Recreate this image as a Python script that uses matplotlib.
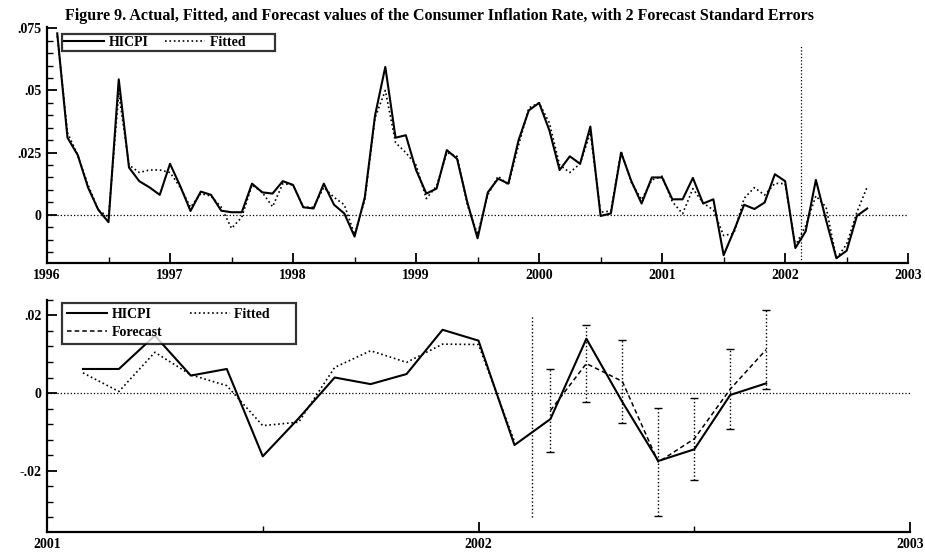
import numpy as np
import matplotlib
matplotlib.use("Agg")
import matplotlib.pyplot as plt
from matplotlib.ticker import MultipleLocator, FuncFormatter

# Monthly consumer inflation (HICPI), Feb 1996 - Sep 2002
hicpi = [
    0.073, 0.031, 0.024, 0.011, 0.002, -0.003, 0.0545, 0.019, 0.0135, 0.011, 0.008,
    0.0205, 0.0115, 0.0015, 0.0093, 0.008, 0.0016, 0.001, 0.001, 0.0125, 0.009, 0.0085,
    0.0135, 0.012, 0.003, 0.0025, 0.0125, 0.004, 0.0005, -0.0088, 0.007, 0.040, 0.0595,
    0.031, 0.032, 0.018, 0.0085, 0.0105, 0.026, 0.0225, 0.005, -0.0095, 0.009, 0.0145,
    0.0125, 0.030, 0.042, 0.045, 0.034, 0.018, 0.0235, 0.0205, 0.0355, -0.0005, 0.0005,
    0.025, 0.0135, 0.0045, 0.015, 0.015,
    0.0062, 0.0062, 0.0148, 0.0045, 0.0062, -0.0163, -0.0065, 0.004, 0.0023, 0.0049,
    0.0163, 0.0135, -0.0134, -0.0067, 0.0140, -0.0023, -0.0175, -0.0145, -0.0005, 0.0025,
]

# In-sample fitted values, Feb 1996 - Feb 2002
fitted = [
    0.072, 0.033, 0.024, 0.012, 0.002, -0.001, 0.049, 0.020, 0.017, 0.018, 0.018,
    0.017, 0.011, 0.003, 0.0085, 0.0075, 0.003, -0.0055, -0.001, 0.012, 0.009, 0.0032,
    0.0125, 0.012, 0.003, 0.003, 0.011, 0.007, 0.004, -0.008, 0.006, 0.039, 0.050,
    0.029, 0.025, 0.020, 0.0065, 0.0115, 0.025, 0.0235, 0.004, -0.008, 0.008, 0.0155,
    0.012, 0.028, 0.043, 0.045, 0.037, 0.020, 0.017, 0.0205, 0.033, 0.001, 0.0015,
    0.0255, 0.013, 0.006, 0.014, 0.0155,
    0.0052, 0.0004, 0.0105, 0.0047, 0.0019, -0.0084, -0.0075, 0.0066, 0.0109, 0.0079,
    0.0126, 0.0125, -0.0125,
]

# Forecasts, Mar - Sep 2002, and two forecast standard errors
forecast = [-0.0045, 0.0076, 0.0030, -0.0178, -0.0118, 0.0010, 0.0112]
forecast_2se = [0.0108, 0.0099, 0.0106, 0.0139, 0.0106, 0.0103, 0.0101]

first_year, first_month = 1996, 2
zoom_start = 2001 + 1 / 12.0   # lower panel starts in Feb 2001

t = first_year + (np.arange(len(hicpi)) + first_month - 1) / 12.0
n_fit = len(fitted)
t_fit = t[:n_fit]
t_fc = t[n_fit:n_fit + len(forecast)]
t_split = 0.5 * (t_fit[-1] + t_fc[0])

serif = ["Liberation Serif", "DejaVu Serif"]
plt.rcParams["font.family"] = serif


def short_fmt(v, pos=None):
    if abs(v) < 1e-12:
        return "0"
    s = f"{v:g}"
    return s.replace("0.", ".")


def style_axes(ax, ymajor, yminor):
    for side in ("top", "right"):
        ax.spines[side].set_visible(False)
    for side in ("left", "bottom"):
        ax.spines[side].set_linewidth(1.6)
    ax.xaxis.set_major_locator(MultipleLocator(1))
    ax.xaxis.set_minor_locator(MultipleLocator(0.5))
    ax.yaxis.set_major_locator(MultipleLocator(ymajor))
    ax.yaxis.set_minor_locator(MultipleLocator(yminor))
    ax.xaxis.set_major_formatter(FuncFormatter(lambda v, p: f"{int(round(v))}"))
    ax.yaxis.set_major_formatter(FuncFormatter(short_fmt))
    ax.tick_params(which="major", direction="in", length=7, width=1.3,
                   labelsize=10, pad=4)
    ax.tick_params(which="minor", direction="in", length=4, width=1.0)
    for lab in ax.get_xticklabels() + ax.get_yticklabels():
        lab.set_fontweight("bold")


fig = plt.figure(figsize=(9.25, 5.54), dpi=100)

# ---- upper panel: full sample ----
ax1 = fig.add_axes([0.0508, 0.525, 0.931, 0.426])
fit_all = list(fitted) + list(forecast)
l1, = ax1.plot(t, hicpi, color="black", lw=1.5, label="HICPI")
l2, = ax1.plot(t[:len(fit_all)], fit_all, color="black", lw=1.2, ls=":",
               label="Fitted")
ax1.axhline(0, color="black", lw=0.9, ls=":")
ax1.vlines(t_split, -0.0195, 0.068, color="black", lw=0.9, ls=":")
ax1.set_xlim(1996, 2003)
ax1.set_ylim(-0.0195, 0.0755)
style_axes(ax1, 0.025, 0.005)
leg1 = ax1.legend(handles=[l1, l2], labels=["HICPI", "Fitted        "],
                  loc="upper left", bbox_to_anchor=(0.0175, 0.97), ncol=2,
                  frameon=True, fancybox=False, edgecolor="black",
                  borderpad=0.15, borderaxespad=0.0,
                  handlelength=2.9, handletextpad=0.3, columnspacing=1.2,
                  prop={"family": serif, "weight": "bold", "size": 10})
leg1.get_frame().set_linewidth(1.6)

fig.text(0.070, 0.971,
         "Figure 9. Actual, Fitted, and Forecast values of the Consumer Inflation Rate, "
         "with 2 Forecast Standard Errors",
         fontsize=11.5, fontweight="bold", va="center", ha="left")

# ---- lower panel: 2001 onwards with forecasts ----
ax2 = fig.add_axes([0.0508, 0.0397, 0.933, 0.419])
sel = t >= zoom_start - 1e-9
sel_fit = t_fit >= zoom_start - 1e-9
h1, = ax2.plot(t[sel], np.asarray(hicpi)[sel], color="black", lw=1.5,
               label="HICPI")
h2, = ax2.plot(t_fit[sel_fit], np.asarray(fitted)[sel_fit], color="black",
               lw=1.2, ls=":", label="Fitted")
eb = ax2.errorbar(t_fc, forecast, yerr=forecast_2se, color="black", lw=1.1,
                  ls=(0, (3, 2)), elinewidth=1.0, capsize=3, capthick=1.0,
                  label="Forecast")
eb[2][0].set_linestyle(":")
h3 = eb[0]
ax2.axhline(0, color="black", lw=0.9, ls=":")
ax2.vlines(t_split, -0.032, 0.020, color="black", lw=1.0, ls=":")
ax2.set_xlim(2001, 2003)
ax2.set_ylim(-0.0358, 0.024)
style_axes(ax2, 0.02, 0.004)
leg2 = ax2.legend(handles=[h1, h3, h2],
                  labels=["HICPI", "Forecast", "Fitted      "],
                  loc="upper left", bbox_to_anchor=(0.0175, 0.985), ncol=2,
                  frameon=True, fancybox=False, edgecolor="black",
                  borderpad=0.35, borderaxespad=0.0, handlelength=2.9,
                  handletextpad=0.3, columnspacing=2.0, labelspacing=0.35,
                  prop={"family": serif, "weight": "bold", "size": 10})
leg2.get_frame().set_linewidth(1.6)

fig.savefig("out.png", dpi=100, facecolor="white")
